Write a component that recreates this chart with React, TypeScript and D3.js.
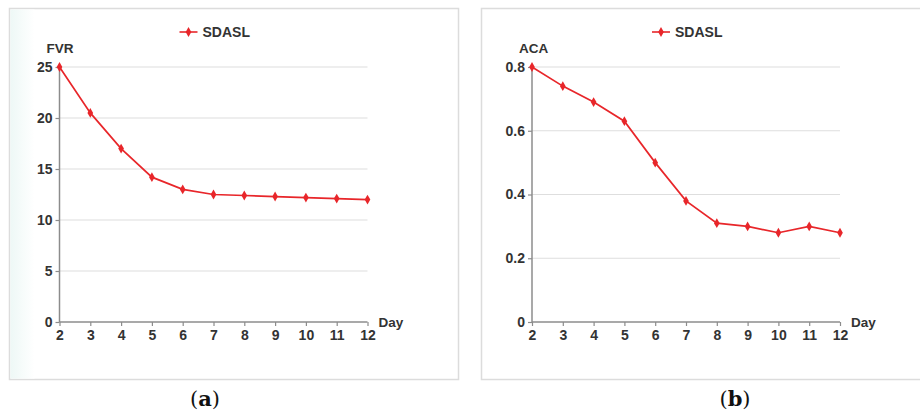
import * as d3 from "d3";
import { useEffect, useRef } from "react";

// Day on the x axis
const days = [2, 3, 4, 5, 6, 7, 8, 9, 10, 11, 12];

// Panel (a): FVR
const fvrValues = [25, 20.5, 17, 14.2, 13, 12.5, 12.4, 12.3, 12.2, 12.1, 12.0];
const fvrTicks = [0, 5, 10, 15, 20, 25];

// Panel (b): ACA
const acaValues = [0.8, 0.74, 0.69, 0.63, 0.5, 0.38, 0.31, 0.3, 0.28, 0.3, 0.28];
const acaTicks = [0, 0.2, 0.4, 0.6, 0.8];

const seriesName = "SDASL";
const RED = "#e8262a";
const FONT = "'Liberation Sans', Arial, Helvetica, sans-serif";

type Panel = {
  boxX: number;
  boxW: number;
  x0: number;
  x1: number;
  values: number[];
  ticks: number[];
  yMax: number;
  yLabel: string;
  fmt: (v: number) => string;
  caption: string;
  captionX: number;
  shade: boolean;
};

const panels: Panel[] = [
  {
    boxX: 9.5, boxW: 449, x0: 59.5, x1: 367.5,
    values: fvrValues, ticks: fvrTicks, yMax: 25, yLabel: "FVR",
    fmt: (v) => String(v), caption: "a", captionX: 205, shade: true,
  },
  {
    boxX: 481.5, boxW: 440, x0: 532, x1: 840,
    values: acaValues, ticks: acaTicks, yMax: 0.8, yLabel: "ACA",
    fmt: (v) => (v === 0 ? "0" : d3.format(".1f")(v)), caption: "b", captionX: 735, shade: false,
  },
];

const App = () => {
  const ref = useRef<SVGSVGElement | null>(null);

  useEffect(() => {
    const svg = d3.select(ref.current);
    svg.selectAll("*").remove();

    const defs = svg.append("defs");
    const grad = defs.append("linearGradient").attr("id", "shade").attr("x1", "0").attr("x2", "1");
    grad.append("stop").attr("offset", "0").attr("stop-color", "#eef8f6");
    grad.append("stop").attr("offset", "1").attr("stop-color", "#ffffff");

    const diamond = d3.symbol().type(d3.symbolDiamond).size(28);

    panels.forEach((p) => {
      const g = svg.append("g");
      const yTop = 67;
      const yBottom = 322;

      // frame
      g.append("rect")
        .attr("x", p.boxX).attr("y", 8.5).attr("width", p.boxW).attr("height", 371)
        .attr("fill", "#fff").attr("stroke", "#dcdcdc").attr("stroke-width", 1.5);
      if (p.shade) {
        g.append("rect")
          .attr("x", p.boxX + 1).attr("y", 9.5).attr("width", 24).attr("height", 369)
          .attr("fill", "url(#shade)");
      }

      const x = d3.scaleLinear().domain([2, 12]).range([p.x0, p.x1]);
      const y = d3.scaleLinear().domain([0, p.yMax]).range([yBottom, yTop]);

      // gridlines
      g.selectAll(".grid")
        .data(p.ticks.filter((t) => t > 0))
        .enter().append("line")
        .attr("x1", p.x0).attr("x2", p.x1)
        .attr("y1", (d) => y(d)).attr("y2", (d) => y(d))
        .attr("stroke", "#dedede").attr("stroke-width", 1.2);

      // y axis
      const yAxis = g.append("g").attr("transform", `translate(${p.x0},0)`)
        .call(d3.axisLeft(y).tickValues(p.ticks).tickSize(4).tickPadding(3).tickFormat((d) => p.fmt(+d)));
      yAxis.select(".domain").attr("stroke", "#8c8c8c").attr("stroke-width", 1.5).attr("d", `M0,${yBottom}V${yTop}`);
      yAxis.selectAll(".tick line").attr("stroke", "#8c8c8c").attr("stroke-width", 1.2);
      yAxis.selectAll(".tick text")
        .attr("fill", "#333").attr("font-family", FONT).attr("font-weight", "bold").attr("font-size", 14);

      // x axis
      const xAxis = g.append("g").attr("transform", `translate(0,${yBottom})`)
        .call(d3.axisBottom(x).tickValues(days).tickSize(4).tickPadding(4).tickFormat((d) => String(d)));
      xAxis.select(".domain").attr("stroke", "#8c8c8c").attr("stroke-width", 1.5).attr("d", `M${p.x0},0H${p.x1}`);
      xAxis.selectAll(".tick line").attr("stroke", "#8c8c8c").attr("stroke-width", 1.2);
      xAxis.selectAll(".tick text")
        .attr("fill", "#333").attr("font-family", FONT).attr("font-weight", "bold").attr("font-size", 14);

      // axis titles
      g.append("text").attr("x", p.x0 - 13).attr("y", 53).text(p.yLabel)
        .attr("fill", "#333").attr("font-family", FONT).attr("font-weight", "bold").attr("font-size", 13.5);
      g.append("text").attr("x", p.x1 + 11).attr("y", 327).text("Day")
        .attr("fill", "#333").attr("font-family", FONT).attr("font-weight", "bold").attr("font-size", 13.5);

      // series
      const line = d3.line<number>().x((_, i) => x(days[i])).y((d) => y(d));
      g.append("path").datum(p.values).attr("d", line)
        .attr("fill", "none").attr("stroke", RED).attr("stroke-width", 1.7);
      g.selectAll(".pt").data(p.values).enter().append("path")
        .attr("d", diamond)
        .attr("transform", (d, i) => `translate(${x(days[i])},${y(d)})`)
        .attr("fill", RED);

      // legend
      const lx = p.x0 + 120;
      g.append("line").attr("x1", lx).attr("x2", lx + 18).attr("y1", 32).attr("y2", 32)
        .attr("stroke", RED).attr("stroke-width", 1.6);
      g.append("path").attr("d", diamond).attr("transform", `translate(${lx + 9},32)`).attr("fill", RED);
      g.append("text").attr("x", lx + 23).attr("y", 37).text(seriesName)
        .attr("fill", "#333").attr("font-family", FONT).attr("font-weight", "bold").attr("font-size", 14);

      // caption
      const cap = g.append("text").attr("x", p.captionX).attr("y", 406).attr("text-anchor", "middle")
        .attr("font-family", "'DejaVu Serif', 'Liberation Serif', serif").attr("font-size", 21).attr("fill", "#111");
      cap.append("tspan").text("(");
      cap.append("tspan").attr("font-weight", "bold").text(p.caption);
      cap.append("tspan").text(")");
    });
  }, []);

  return (
    <svg
      ref={ref}
      width={920}
      height={414}
      style={{ position: "absolute", left: 0, top: 0, background: "#fff" }}
    />
  );
};

export default App;
